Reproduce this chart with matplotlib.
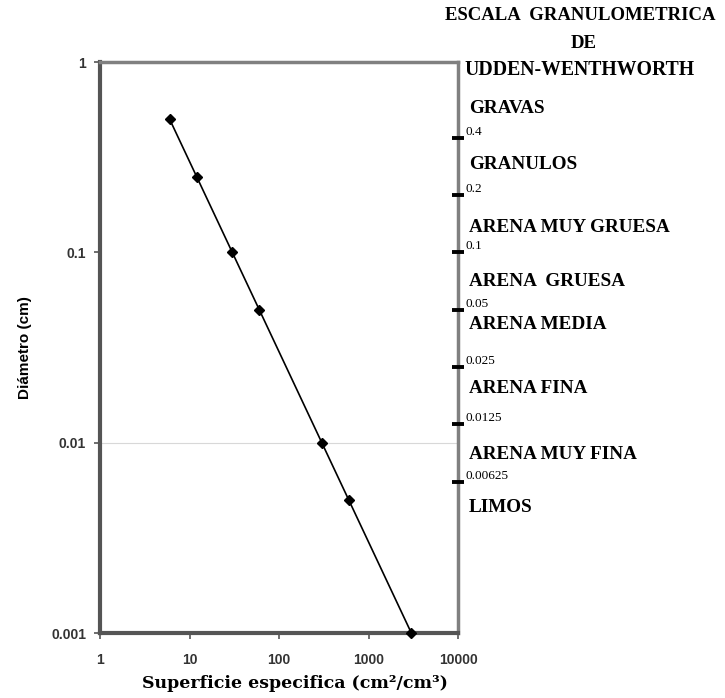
import numpy as np
import matplotlib
matplotlib.use("Agg")
import matplotlib.pyplot as plt
import matplotlib.transforms as mtransforms

# diameter (cm) vs specific surface (cm2/cm3)
superficie = [6, 12, 30, 60, 300, 600, 3000]
diametro = [0.5, 0.25, 0.1, 0.05, 0.01, 0.005, 0.001]

# Udden-Wentworth class limits (cm)
limites = [0.4, 0.2, 0.1, 0.05, 0.025, 0.0125, 0.00625]
limites_txt = ["0.4", "0.2", "0.1", "0.05", "0.025", "0.0125", "0.00625"]
clases = ["GRAVAS", "GRANULOS", "ARENA MUY GRUESA", "ARENA  GRUESA",
          "ARENA MEDIA", "ARENA FINA", "ARENA MUY FINA", "LIMOS"]
clases_y = [0.57, 0.29, 0.135, 0.070, 0.042, 0.0192, 0.0087, 0.00455]

fig = plt.figure(figsize=(7.25, 6.98), dpi=100)
ax = fig.add_axes([0.138, 0.093, 0.494, 0.818])
ax.set_xscale("log")
ax.set_yscale("log")
ax.set_xlim(1, 10000)
ax.set_ylim(0.001, 1)

ax.axhline(0.01, color="#d8d8d8", lw=0.8, zorder=0)
ax.plot(superficie, diametro, color="black", lw=1.2, marker="D",
        markersize=5, zorder=3, clip_on=False)

for s in ["left", "bottom"]:
    ax.spines[s].set_color("#555555")
    ax.spines[s].set_linewidth(3)
for s in ["top", "right"]:
    ax.spines[s].set_color("#808080")
    ax.spines[s].set_linewidth(2.5)

ax.set_xticks([1, 10, 100, 1000, 10000])
ax.set_xticklabels(["1", "10", "100", "1000", "10000"])
ax.set_yticks([0.001, 0.01, 0.1, 1])
ax.set_yticklabels(["0.001", "0.01", "0.1", "1"])
ax.minorticks_off()
ax.tick_params(axis="both", length=4, width=1.2, color="#555555",
               labelsize=10, labelcolor="#333333", pad=6)
ax.tick_params(axis="x", pad=10)
for lab in ax.get_xticklabels() + ax.get_yticklabels():
    lab.set_family("Liberation Sans")
    lab.set_fontweight("bold")

ax.set_ylabel("Diámetro (cm)", fontsize=11, fontweight="bold",
              family="Liberation Sans", labelpad=14)
ax.set_xlabel("Superficie especifica (cm²/cm³)", fontsize=12.5,
              fontweight="bold", family="DejaVu Serif")
ax.xaxis.set_label_coords(0.545, -0.073)

# right scale
ax2 = ax.twinx()
ax2.set_yscale("log")
ax2.set_ylim(0.001, 1)
ax2.set_yticks(limites)
ax2.set_yticklabels(limites_txt)
ax2.minorticks_off()
ax2.tick_params(axis="y", direction="inout", length=9, width=2.8,
                color="black", labelsize=9.5, pad=1)
for lab in ax2.get_yticklabels():
    lab.set_family("Liberation Serif")
    lab.set_va("bottom")
for s in ax2.spines.values():
    s.set_visible(False)

trans = mtransforms.blended_transform_factory(ax.transAxes, ax.transData)
for nombre, yy in zip(clases, clases_y):
    ax.text(1.03, yy, nombre, transform=trans, family="Liberation Serif",
            fontweight="bold", fontsize=13.8, va="center", ha="left")

fig.text(0.800, 0.978, "ESCALA  GRANULOMETRICA", family="Liberation Serif",
         fontweight="bold", fontsize=13.5, ha="center", va="center")
fig.text(0.805, 0.938, "DE", family="Liberation Serif",
         fontweight="bold", fontsize=13.5, ha="center", va="center")
fig.text(0.800, 0.899, "UDDEN-WENTHWORTH", family="Liberation Serif",
         fontweight="bold", fontsize=14.2, ha="center", va="center")

fig.savefig("out.png", dpi=100, facecolor="white")
